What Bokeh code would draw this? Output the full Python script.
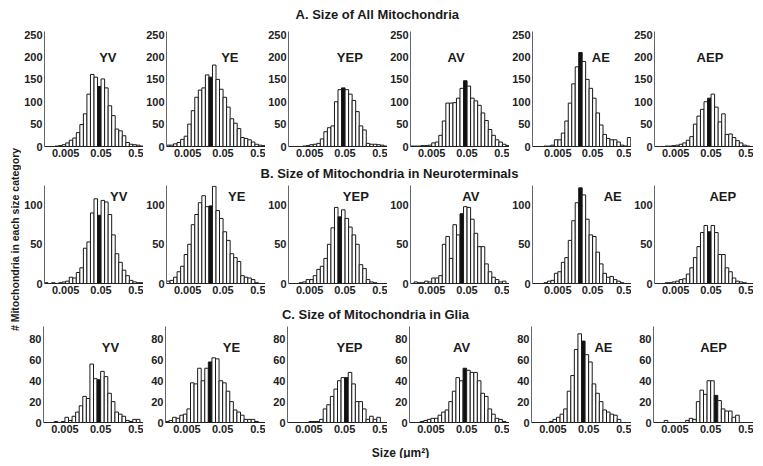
import math
from bokeh.plotting import figure
from bokeh.layouts import row, column
from bokeh.models import Range1d, FixedTicker, NumeralTickFormatter, Label, ColumnDataSource
from bokeh.embed import file_html
from bokeh.resources import INLINE

# ---------------- data ----------------
GROUPS = ["YV", "YE", "YEP", "AV", "AE", "AEP"]
ROW_TITLES = ["A. Size of All Mitochondria",
              "B. Size of Mitochondria in Neuroterminals",
              "C. Size of Mitochondria in Glia"]
Y_LABEL = "# Mitochondria in each size category"
X_LABEL = "Size (\u03bcm\u00b2)"
X_TICKS = [0.005, 0.05, 0.5]
Y_TICKS_ALL = [0, 50, 100, 150, 200, 250]
Y_TICKS_NT = [0, 50, 100]
Y_TICKS_GLIA = [0, 20, 40, 60, 80]

# size bins: 10 per decade, first bin starts at 10^-2.9 um^2, 28 bins
BIN_START_LOG = -2.9
BIN_STEP_LOG = 0.1

# A. all mitochondria (counts per size bin)
ALL_YV = [0, 0, 0, 1, 2, 4, 8, 14, 19, 31, 49, 73, 117, 161, 155, 134, 151, 131, 91, 69, 39, 35, 24, 9, 5, 4, 3, 1]
ALL_YE = [3, 3, 6, 9, 16, 23, 50, 80, 110, 126, 131, 160, 155, 182, 150, 128, 110, 88, 62, 52, 40, 20, 18, 15, 10, 5, 3, 2]
ALL_YEP = [0, 0, 0, 0, 1, 2, 4, 5, 7, 17, 33, 42, 46, 100, 127, 131, 127, 117, 103, 78, 46, 37, 7, 5, 5, 4, 3, 1]
ALL_AV = [1, 1, 1, 2, 2, 3, 8, 10, 25, 57, 97, 97, 98, 108, 130, 147, 135, 108, 102, 92, 75, 58, 38, 25, 15, 10, 5, 2]
ALL_AE = [0, 0, 1, 1, 3, 15, 15, 30, 57, 97, 140, 178, 210, 190, 150, 130, 108, 75, 48, 27, 18, 15, 15, 10, 3, 1, 20, 0]
ALL_AEP = [0, 0, 0, 1, 1, 2, 3, 5, 8, 14, 22, 50, 68, 83, 100, 108, 117, 88, 55, 73, 27, 28, 20, 13, 8, 3, 1, 0]
ALL_MEDIAN_BIN = [15, 12, 15, 15, 12, 15]

# B. neuroterminals
NT_YV = [1, 0, 1, 0, 1, 2, 3, 8, 7, 14, 20, 45, 53, 90, 108, 87, 106, 104, 88, 62, 38, 27, 17, 10, 4, 2, 1, 1]
NT_YE = [3, 4, 8, 15, 22, 37, 50, 75, 88, 103, 112, 98, 99, 124, 93, 83, 66, 55, 38, 33, 28, 10, 8, 7, 5, 1, 0, 0]
NT_YEP = [0, 0, 0, 1, 2, 5, 5, 10, 18, 22, 32, 50, 71, 97, 85, 94, 83, 72, 62, 50, 24, 19, 5, 2, 1, 0, 0, 0]
NT_AV = [0, 2, 1, 1, 3, 2, 7, 7, 10, 50, 60, 32, 75, 62, 89, 98, 97, 82, 64, 47, 47, 25, 15, 8, 5, 2, 3, 0]
NT_AE = [0, 0, 1, 3, 4, 13, 15, 27, 33, 55, 80, 103, 122, 113, 82, 62, 60, 40, 25, 13, 8, 9, 5, 3, 1, 0, 0, 0]
NT_AEP = [0, 0, 0, 1, 1, 2, 3, 5, 6, 12, 20, 33, 47, 65, 74, 66, 74, 65, 37, 37, 20, 15, 7, 3, 2, 1, 0, 0]
NT_MEDIAN_BIN = [15, 12, 14, 14, 12, 15]

# C. glia
GL_YV = [0, 0, 0, 1, 0, 1, 5, 2, 6, 10, 16, 25, 23, 56, 42, 41, 49, 44, 28, 20, 10, 8, 6, 2, 1, 3, 3, 0]
GL_YE = [1, 2, 5, 4, 7, 8, 13, 38, 37, 52, 40, 52, 58, 62, 61, 40, 38, 30, 20, 12, 10, 7, 3, 3, 3, 1, 0, 0]
GL_YEP = [0, 0, 0, 0, 0, 0, 1, 1, 1, 3, 13, 17, 25, 32, 40, 43, 43, 48, 37, 20, 20, 13, 3, 6, 3, 5, 0, 0]
GL_AV = [0, 0, 0, 1, 2, 3, 4, 4, 7, 10, 12, 20, 30, 43, 40, 52, 50, 48, 48, 40, 28, 25, 13, 8, 4, 3, 1, 0]
GL_AE = [0, 0, 0, 0, 0, 1, 3, 5, 8, 13, 30, 45, 70, 85, 78, 65, 58, 37, 28, 20, 12, 10, 8, 7, 3, 0, 0, 0]
GL_AEP = [0, 0, 0, 2, 0, 0, 0, 0, 0, 2, 4, 3, 20, 31, 27, 40, 40, 26, 21, 13, 11, 11, 5, 7, 0, 0, 0, 0]
GL_MEDIAN_BIN = [15, 12, 16, 15, 14, 17]

# ---------------- layout / style ----------------
FONT = "Liberation Sans"
PANEL_W = 122
BORDER_L = 22
X_RANGE_DEFAULT = (-2.9, -0.1)      # log10 of axis limits
X_RANGE_AE = (-3.03, -0.18)

ROWS = [
    dict(data=[ALL_YV, ALL_YE, ALL_YEP, ALL_AV, ALL_AE, ALL_AEP], med=ALL_MEDIAN_BIN,
         ymax=257, yticks=Y_TICKS_ALL, top=7, frame=115, bottom=17,
         xr=[X_RANGE_DEFAULT] * 4 + [X_RANGE_AE, X_RANGE_DEFAULT],
         lab_rel=[64, 64, 62, 46, 69, 56], lab_y=200),
    dict(data=[NT_YV, NT_YE, NT_YEP, NT_AV, NT_AE, NT_AEP], med=NT_MEDIAN_BIN,
         ymax=125, yticks=Y_TICKS_NT, top=4, frame=98, bottom=17,
         xr=[X_RANGE_DEFAULT] * 4 + [X_RANGE_AE, X_RANGE_DEFAULT],
         lab_rel=[75, 71, 68, 61, 81, 69], lab_y=111),
    dict(data=[GL_YV, GL_YE, GL_YEP, GL_AV, GL_AE, GL_AEP], med=GL_MEDIAN_BIN,
         ymax=92, yticks=Y_TICKS_GLIA, top=4, frame=96, bottom=17,
         xr=[X_RANGE_DEFAULT] * 6,
         lab_rel=[67, 66, 62, 52, 72, 60], lab_y=72),
]


def make_panel(counts, med, ymax, yticks, xr, top, frame, bottom, label, lab_rel, lab_y):
    x0, x1 = xr
    p = figure(width=PANEL_W, height=top + frame + bottom, x_axis_type="log",
               x_range=Range1d(10 ** x0, 10 ** x1), y_range=Range1d(0, ymax),
               output_backend="svg", toolbar_location=None,
               min_border_left=BORDER_L, min_border_right=0,
               min_border_top=top, min_border_bottom=bottom)
    lefts, rights, tops, fills = [], [], [], []
    for i, c in enumerate(counts):
        if c <= 0:
            continue
        lefts.append(10 ** (BIN_START_LOG + i * BIN_STEP_LOG))
        rights.append(10 ** (BIN_START_LOG + (i + 1) * BIN_STEP_LOG))
        tops.append(c)
        fills.append("#111111" if i == med else "white")
    src = ColumnDataSource(dict(left=lefts, right=rights, top=tops, fill=fills))
    p.quad(left="left", right="right", bottom=0, top="top", source=src,
           fill_color="fill", line_color="#1a1a1a", line_width=1)
    p.xgrid.visible = False
    p.ygrid.visible = False
    p.outline_line_color = None
    p.xaxis.ticker = FixedTicker(ticks=X_TICKS)
    p.xaxis.formatter = NumeralTickFormatter(format="0.[000]")
    p.yaxis.ticker = FixedTicker(ticks=yticks)
    for ax in (p.xaxis[0], p.yaxis[0]):
        ax.major_tick_out = 0
        ax.major_tick_in = 0
        ax.minor_tick_out = 0
        ax.minor_tick_in = 0
        ax.major_label_text_font = FONT
        ax.major_label_text_font_style = "bold"
        ax.major_label_text_font_size = "11px"
        ax.major_label_text_color = "#222222"
        ax.major_label_standoff = 2
    p.xaxis.axis_line_color = "#222222"
    p.yaxis.axis_line_color = "#666666"
    lx = 10 ** (x0 + lab_rel / 100.0 * (x1 - x0))
    p.add_layout(Label(x=lx, y=lab_y, text=label, text_font=FONT, text_font_style="bold",
                       text_font_size="13px", text_align="center", text_baseline="middle",
                       text_color="#1a1a1a"))
    return p


def text_fig(w, h, txt, cx, cy, size, angle=0.0):
    f = figure(width=w, height=h, x_range=Range1d(0, w), y_range=Range1d(0, h),
               output_backend="svg", toolbar_location=None, min_border=0,
               x_axis_location=None, y_axis_location=None)
    f.xgrid.visible = False
    f.ygrid.visible = False
    f.outline_line_color = None
    f.add_layout(Label(x=cx, y=cy, text=txt, text_font=FONT, text_font_style="bold",
                       text_font_size=size, text_align="center", text_baseline="middle",
                       angle=angle, text_color="#1a1a1a"))
    return f


TOTAL_W = PANEL_W * 6  # 732
children = []
title_specs = [(24, 356, 10), (18, 368, 8), (22, 354, 8)]
for r, spec in enumerate(ROWS):
    th, tx, ty = title_specs[r]
    children.append(text_fig(TOTAL_W, th, ROW_TITLES[r], tx, ty, "13px"))
    panels = []
    for k in range(6):
        panels.append(make_panel(spec["data"][k], spec["med"][k], spec["ymax"], spec["yticks"],
                                 spec["xr"][k], spec["top"], spec["frame"], spec["bottom"],
                                 GROUPS[k], spec["lab_rel"][k], spec["lab_y"]))
    children.append(row(*panels, spacing=0))
children.append(text_fig(TOTAL_W, 19, X_LABEL, 379, 6, "12px"))

ylab = text_fig(21, 458, Y_LABEL, 14, 219, "10.5px", angle=math.pi / 2)
layout = row(ylab, column(*children, spacing=0), spacing=0)

open("out.html", "w").write(file_html(layout, INLINE))
